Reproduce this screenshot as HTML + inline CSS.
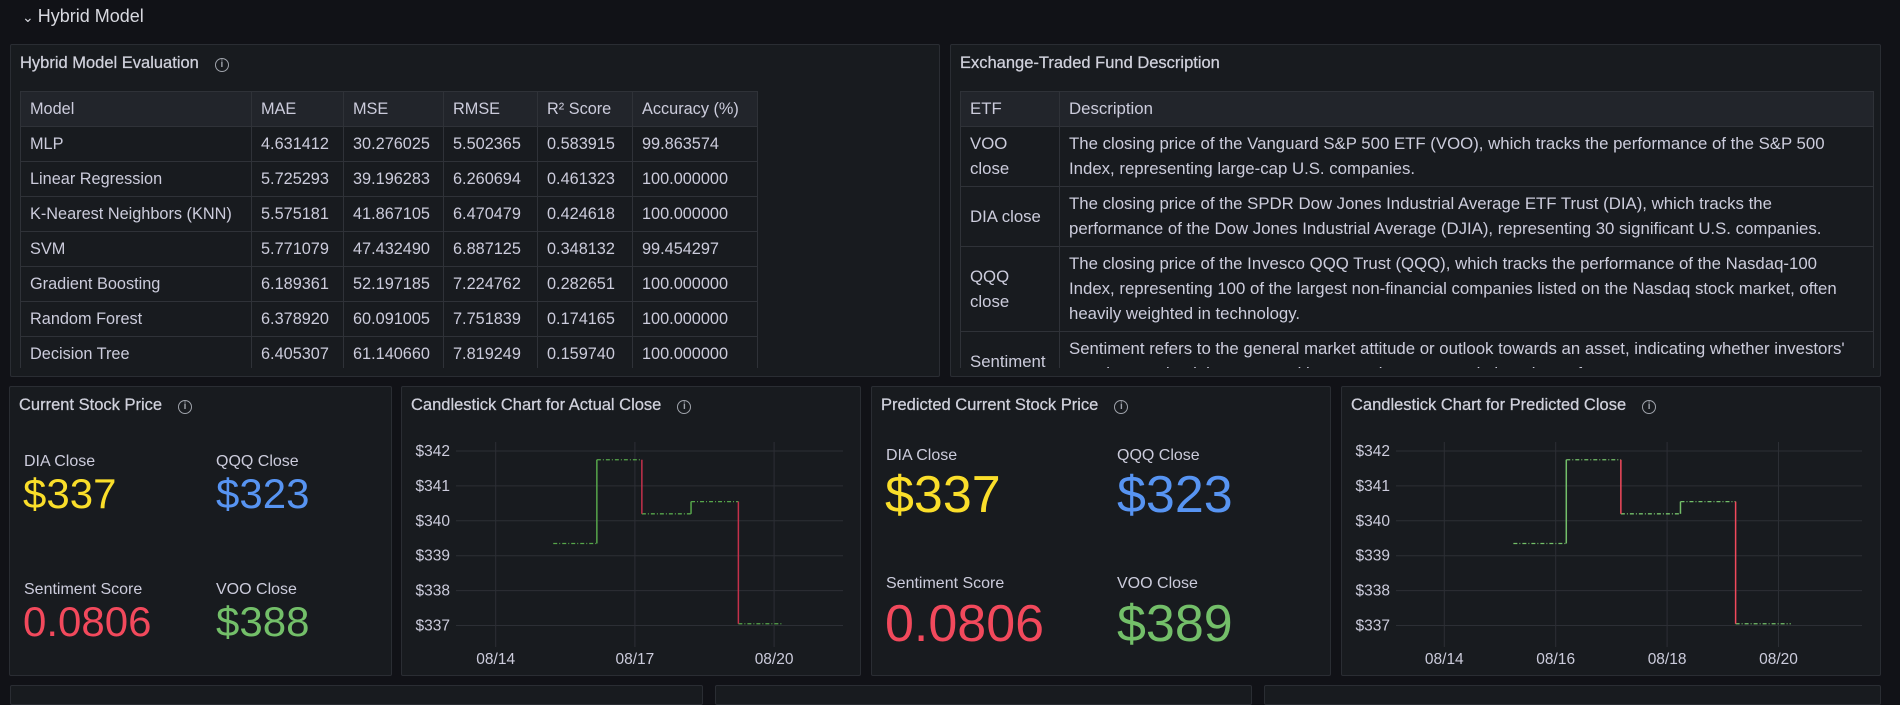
<!DOCTYPE html>
<html><head><meta charset="utf-8">
<style>
*{box-sizing:border-box;margin:0;padding:0}
body{width:1900px;height:689px;background:#111217;font-family:"Liberation Sans",sans-serif;color:#ccccdc;position:relative;overflow:hidden}
.panel{position:absolute;background:#181b1f;border:1px solid #2a2d33;border-radius:2px}
.ptitle{position:absolute;font-size:16.5px;color:#d0d1dc;white-space:nowrap;-webkit-text-stroke:0.25px #d0d1dc}
.info{display:inline-block;width:14px;height:14px;border:1.3px solid #9fa3ab;border-radius:50%;font-size:10px;line-height:12px;text-align:center;color:#9fa3ab;margin-left:16px;vertical-align:1px;font-weight:bold;-webkit-text-stroke:0}
table{border-collapse:collapse;position:absolute;font-size:16.3px;table-layout:fixed}
td,th{border:1px solid #2f3238;text-align:left;font-weight:normal;padding:0 9px;vertical-align:middle}
th{background:#22252b;height:35px}
.t1 td{height:35px}
.clip{position:absolute;overflow:hidden}
.t2{font-size:16.8px}
.t2 td{line-height:25px;padding-top:4px;padding-bottom:5px}
.lab{position:absolute;font-size:16px;color:#ccccdc;white-space:nowrap}
.val{position:absolute;white-space:nowrap;line-height:1}
</style></head><body>
<div style="position:absolute;left:22px;top:6px;font-size:18px;color:#d8d9e0"><span style="font-size:14px;margin-right:4px">&#8964;</span>Hybrid Model</div>

<div class="panel" style="left:10px;top:44px;width:930px;height:333px">
 <div class="ptitle" style="left:9px;top:9px">Hybrid Model Evaluation<span class="info">i</span></div>
 <div class="clip" style="left:9px;top:46px;width:740px;height:277px">
 <table class="t1" style="left:0;top:0;width:737px">
  <colgroup><col style="width:231px"><col style="width:92px"><col style="width:100px"><col style="width:94px"><col style="width:95px"><col style="width:125px"></colgroup>
  <tr><th>Model</th><th>MAE</th><th>MSE</th><th>RMSE</th><th>R² Score</th><th>Accuracy (%)</th></tr>
  <tr><td>MLP</td><td>4.631412</td><td>30.276025</td><td>5.502365</td><td>0.583915</td><td>99.863574</td></tr>
  <tr><td>Linear Regression</td><td>5.725293</td><td>39.196283</td><td>6.260694</td><td>0.461323</td><td>100.000000</td></tr>
  <tr><td>K-Nearest Neighbors (KNN)</td><td>5.575181</td><td>41.867105</td><td>6.470479</td><td>0.424618</td><td>100.000000</td></tr>
  <tr><td>SVM</td><td>5.771079</td><td>47.432490</td><td>6.887125</td><td>0.348132</td><td>99.454297</td></tr>
  <tr><td>Gradient Boosting</td><td>6.189361</td><td>52.197185</td><td>7.224762</td><td>0.282651</td><td>100.000000</td></tr>
  <tr><td>Random Forest</td><td>6.378920</td><td>60.091005</td><td>7.751839</td><td>0.174165</td><td>100.000000</td></tr>
  <tr><td>Decision Tree</td><td>6.405307</td><td>61.140660</td><td>7.819249</td><td>0.159740</td><td>100.000000</td></tr>
 </table></div>
</div>

<div class="panel" style="left:950px;top:44px;width:931px;height:333px">
 <div class="ptitle" style="left:9px;top:9px">Exchange-Traded Fund Description</div>
 <div class="clip" style="left:9px;top:46px;width:914px;height:277px">
 <table class="t2" style="left:0;top:0;width:913px">
  <colgroup><col style="width:99px"><col style="width:814px"></colgroup>
  <tr><th>ETF</th><th>Description</th></tr>
  <tr><td>VOO close</td><td>The closing price of the Vanguard S&amp;P 500 ETF (VOO), which tracks the performance of the S&amp;P 500 Index, representing large-cap U.S. companies.</td></tr>
  <tr><td>DIA close</td><td>The closing price of the SPDR Dow Jones Industrial Average ETF Trust (DIA), which tracks the performance of the Dow Jones Industrial Average (DJIA), representing 30 significant U.S. companies.</td></tr>
  <tr><td>QQQ close</td><td>The closing price of the Invesco QQQ Trust (QQQ), which tracks the performance of the Nasdaq-100 Index, representing 100 of the largest non-financial companies listed on the Nasdaq stock market, often heavily weighted in technology.</td></tr>
  <tr><td>Sentiment</td><td>Sentiment refers to the general market attitude or outlook towards an asset, indicating whether investors' emotions and opinions are positive, negative, or neutral about its performance.</td></tr>
 </table></div>
</div>

<div class="panel" style="left:9px;top:386px;width:383px;height:290px">
 <div class="ptitle" style="left:9px;top:9px">Current Stock Price<span class="info">i</span></div>
 <div class="lab" style="left:14px;top:66px">DIA Close</div>
 <div class="val" style="left:13px;top:86px;font-size:42px;color:#fade2a">$337</div>
 <div class="lab" style="left:206px;top:66px">QQQ Close</div>
 <div class="val" style="left:206px;top:86px;font-size:42px;color:#5794f2">$323</div>
 <div class="lab" style="left:14px;top:194px">Sentiment Score</div>
 <div class="val" style="left:13px;top:214px;font-size:42px;color:#f2495c">0.0806</div>
 <div class="lab" style="left:206px;top:194px">VOO Close</div>
 <div class="val" style="left:206px;top:214px;font-size:42px;color:#73bf69">$388</div>
</div>

<div class="panel" style="left:401px;top:386px;width:460px;height:290px">
 <div class="ptitle" style="left:9px;top:9px">Candlestick Chart for Actual Close<span class="info">i</span></div>
</div>

<div class="panel" style="left:871px;top:386px;width:460px;height:290px">
 <div class="ptitle" style="left:9px;top:9px">Predicted Current Stock Price<span class="info">i</span></div>
 <div class="lab" style="left:14px;top:60px">DIA Close</div>
 <div class="val" style="left:13px;top:82px;font-size:52px;color:#fade2a">$337</div>
 <div class="lab" style="left:245px;top:60px">QQQ Close</div>
 <div class="val" style="left:245px;top:82px;font-size:52px;color:#5794f2">$323</div>
 <div class="lab" style="left:14px;top:188px">Sentiment Score</div>
 <div class="val" style="left:13px;top:211px;font-size:52px;color:#f2495c">0.0806</div>
 <div class="lab" style="left:245px;top:188px">VOO Close</div>
 <div class="val" style="left:245px;top:211px;font-size:52px;color:#73bf69">$389</div>
</div>

<div class="panel" style="left:1341px;top:386px;width:540px;height:290px">
 <div class="ptitle" style="left:9px;top:9px">Candlestick Chart for Predicted Close<span class="info">i</span></div>
</div>

<div class="panel" style="left:10px;top:685px;width:693px;height:20px"></div>
<div class="panel" style="left:715px;top:685px;width:537px;height:20px"></div>
<div class="panel" style="left:1264px;top:685px;width:617px;height:20px"></div>

<svg id="charts" width="1900" height="689" style="position:absolute;left:0;top:0;pointer-events:none" font-family="Liberation Sans, sans-serif"></svg>

<script>
// Shared y ticks
const yTicks = [337, 338, 339, 340, 341, 342];
// Actual close chart data (days after 08/14)
const actualStart = [1.24, 2.18, 3.15, 4.21, 5.23];
const actualEnd = [2.18, 3.15, 4.21, 5.23, 6.2];
const actualClose = [339.35, 341.75, 340.2, 340.55, 337.05];
const actualXTicks = [0, 3, 6];
const actualXLabels = ['08/14', '08/17', '08/20'];
// Predicted close chart data
const predStart = [1.24, 2.19, 3.17, 4.24, 5.23];
const predEnd = [2.19, 3.17, 4.24, 5.23, 6.22];
const predClose = [339.35, 341.75, 340.2, 340.55, 337.05];
const predXTicks = [0, 2, 4, 6];
const predXLabels = ['08/14', '08/16', '08/18', '08/20'];

const svg = document.getElementById('charts');
const NS = 'http://www.w3.org/2000/svg';
function mk(tag, attrs){const e=document.createElementNS(NS,tag);for(const k in attrs)e.setAttribute(k,attrs[k]);svg.appendChild(e);return e;}

function drawChart(cfg, starts, ends, closes, xt, xl){
  const x = d => cfg.x0 + d*cfg.perDay;
  const y = v => cfg.yTop + (342 - v)*cfg.perUnit;
  yTicks.forEach(v=>{
    const g = mk('line',{x1:cfg.left,x2:cfg.right,y1:y(v),y2:y(v),stroke:'#2c2f35','stroke-width':1});
    
    
    const t = mk('text',{x:cfg.left-6,y:y(v)+5,'text-anchor':'end','font-size':15.5,fill:'#ccccdc'});
    t.textContent = '$'+v;
    
    
  });
  xt.forEach((d,i)=>{
    const g = mk('line',{x1:x(d),x2:x(d),y1:442,y2:647,stroke:'#2c2f35','stroke-width':1});
    
    
    const t = mk('text',{x:x(d),y:664,'text-anchor':'middle','font-size':15.5,fill:'#ccccdc'});
    t.textContent = xl[i];
    
    
  });
  closes.forEach((v,i)=>{
    const h = mk('line',{x1:x(starts[i]),x2:x(ends[i]),y1:y(v),y2:y(v),stroke:cfg.green,'stroke-width':1.3,'stroke-dasharray':'4 2 1 2'});
    
    
    if(i>0){
      const up = v >= closes[i-1];
      const vl = mk('line',{x1:x(starts[i]),x2:x(starts[i]),y1:y(closes[i-1]),y2:y(v),stroke:up?cfg.green:cfg.red,'stroke-width':1.5});
      
      
    }
  });
}
drawChart({x0:495.7,perDay:46.4,yTop:451,perUnit:34.9,left:456,right:843,green:'#56a64b',red:'#c4314b'},
  actualStart, actualEnd, actualClose, actualXTicks, actualXLabels);
drawChart({x0:1444.3,perDay:55.7,yTop:451,perUnit:34.9,left:1396,right:1862,green:'#73bf69',red:'#f2495c'},
  predStart, predEnd, predClose, predXTicks, predXLabels);
</script>
</body></html>
